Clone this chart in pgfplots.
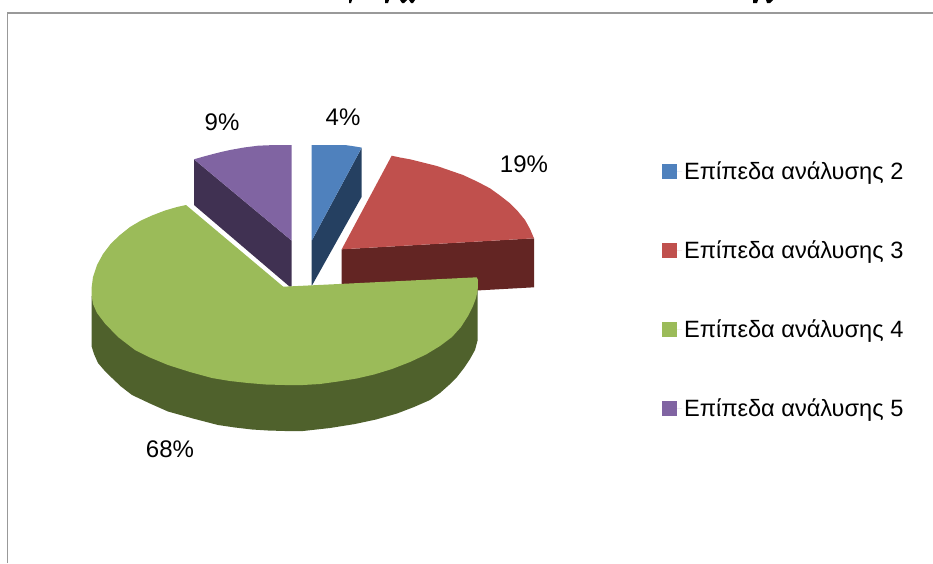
\documentclass[border=0pt]{standalone}
\usepackage{fontspec}
\setmainfont{Liberation Sans}
\usepackage{pgfplots}
\pgfplotsset{compat=1.18}
\definecolor{blueT}{HTML}{4F81BD}
\definecolor{blueS}{HTML}{254061}
\definecolor{redT}{HTML}{C0504D}
\definecolor{redS}{HTML}{632523}
\definecolor{greenT}{HTML}{9BBB59}
\definecolor{greenS}{HTML}{4F612C}
\definecolor{purpleT}{HTML}{8064A2}
\definecolor{purpleS}{HTML}{403152}
\begin{document}
\begin{tikzpicture}
\begin{axis}[
    scale only axis, width=933pt, height=563pt,
    xmin=0, xmax=933, ymin=0, ymax=563, y dir=reverse,
    hide axis, clip=true,
    legend style={at={(axis cs:662,159.7)}, anchor=north west, draw=none, fill=none,
        font=\fontsize{23.6}{26}\selectfont, row sep=55.7pt, inner sep=0pt, outer sep=0pt},
    legend cell align=left,
    legend image code/.code={\path[#1,draw=none] (0pt,-7.5pt) rectangle (15pt,7.5pt);
        \path (0pt,0pt) -- (20pt,0pt);},
]
% keep the whole picture in the page
\path (axis cs:0,0) -- (axis cs:933,563);
% frame
\addplot[forget plot, color=black!40, line width=1.5pt] coordinates {(7.7,563) (7.7,13.2) (933,13.2)};
% bits of the cut off title
\addplot[forget plot, fill=black, draw=none] coordinates {(349,0) (352,0) (351,3) (349,3)};
\addplot[forget plot, fill=black, draw=none] coordinates {(385,0) (389,0) (388,3) (385,3)};
\addplot[forget plot, fill=black, draw=none] coordinates {(400,0) (407,0) (404,3) (402,3)};
\addplot[forget plot, fill=black, draw=none] coordinates {(409,0) (415,0) (413,3) (411,3)};
\addplot[forget plot, fill=black, draw=none] coordinates {(753,0) (758,0) (757,3) (753,3)};
\addplot[forget plot, fill=black, draw=none] coordinates {(766,0) (773,0) (770,3) (767,3)};
% sides
\addplot[forget plot, fill=purpleS, draw=none] coordinates {(194,159.3) (291.7,240.7) (291.7,286.5) (289.5,286.5) (194,205)};
\addplot[forget plot, fill=blueS, draw=none] coordinates {(361.7,147.7) (361.7,196.7) (311.7,286) (311.7,240.7)};
\addplot[forget plot, fill=redS, draw=none] coordinates {(534,238.3) (534,287.3) (341.7,298) (341.7,249.3)};
\addplot[forget plot, fill=greenS, draw=none] coordinates {
    (91.7,296) (91.7,346.7) (94,354) (98,363) (104,370) (112,378) (121,386.5) (132,395)
    (150,403.5) (168,411.5) (193,418.5) (218,425) (235,427.5) (252,429.5) (268,430.5)
    (285,431) (303,431) (330,428) (355,424) (376,419.5) (397,413.5) (414,407) (430,400)
    (440,393) (449,385) (457,377) (464,368) (470,359) (475,350) (477.7,340) (477.7,285)
    (400,330) (200,330)};
% top faces, in legend order
\addplot[fill=blueT, draw=none] coordinates {(311.7,145) (345,145) (352,146) (361.7,147.6) (311.7,240.7)};
\addlegendentry{Επίπεδα ανάλυσης 2}
\addplot[fill=redT, draw=none] coordinates {
    (391.7,155.7) (400,157.5) (410,159.3) (423,162.5) (437,166) (450,170.5) (463,175)
    (477,181.5) (490,188.3) (500,195.5) (510,203.3) (518,211.5) (525,220) (530,229)
    (534,238.3) (341.7,249.3)};
\addlegendentry{Επίπεδα ανάλυσης 3}
\addplot[fill=greenT, draw=none] coordinates {
    (283.3,286.7) (476.7,277.3) (478,280) (477.7,290) (476,298) (473,306) (468,316)
    (461,327) (452,337) (440,346) (426,354.5) (410,362) (392,369) (374,374.5) (356.7,378.5)
    (338,381.5) (320,384) (303,385) (285,385) (266,384.5) (248,383) (230,381) (212,378)
    (190,372) (168,365) (150,357.5) (135,350) (118,337) (105,323.5) (97,313) (93,304)
    (91.7,296) (91.7,287) (93,277) (97,265) (103,254) (111,243.5) (120,235) (130,227)
    (141,220.5) (152,215.5) (165,210.5) (177,207) (186,205)};
\addlegendentry{Επίπεδα ανάλυσης 4}
\addplot[fill=purpleT, draw=none] coordinates {
    (291.7,145) (275,145) (258,145.7) (244,147.5) (230,150) (221,152) (212,154.3)
    (203,156.7) (194,159.3) (291.7,240.7)};
\addlegendentry{Επίπεδα ανάλυσης 5}
% percentage labels
\node[font=\fontsize{24}{26}\selectfont] at (axis cs:343,117) {4\%};
\node[font=\fontsize{24}{26}\selectfont] at (axis cs:222,122) {9\%};
\node[font=\fontsize{24}{26}\selectfont] at (axis cs:524,164) {19\%};
\node[font=\fontsize{24}{26}\selectfont] at (axis cs:170,449) {68\%};
\end{axis}
\end{tikzpicture}
\end{document}
